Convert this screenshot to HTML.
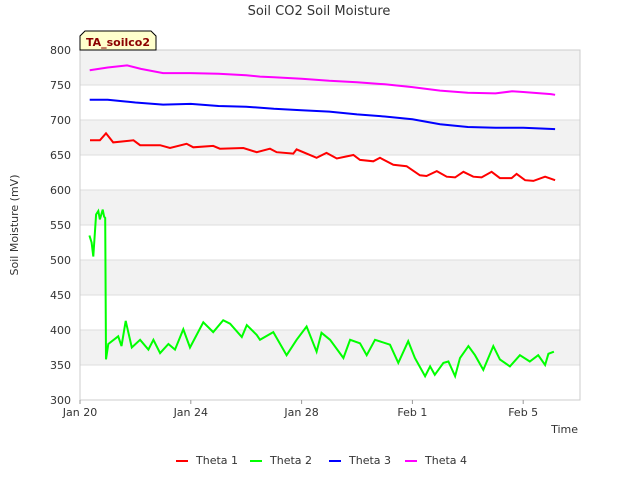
<!DOCTYPE html>
<html><head><meta charset="utf-8"><style>
body{margin:0;background:#fff;}
svg{font-family:"DejaVu Sans","Liberation Sans",sans-serif;}
</style></head><body>
<svg id="chart" width="640" height="480" viewBox="0 0 640 480">
<text x="319" y="15" text-anchor="middle" font-size="13" fill="#333">Soil CO2 Soil Moisture</text>
<g id="bands"></g>
<g id="grid"></g>
<rect x="80" y="50" width="500" height="350" fill="none" stroke="#ccc"/>
<g id="yticks"></g>
<g id="xticks"></g>
<text transform="translate(18,225) rotate(-90)" text-anchor="middle" font-size="11" fill="#333">Soil Moisture (mV)</text>
<text x="578" y="433" text-anchor="end" font-size="11" fill="#333">Time</text>
<g id="series"></g>
<g>
<polygon points="85,31 151,31 156,36 156,50 80,50 80,36" fill="#ffffcc" stroke="#000" stroke-width="1"/>
<text x="118" y="46" text-anchor="middle" font-size="11" font-weight="bold" fill="#8b0000">TA_soilco2</text>
</g>
<g id="legend"></g>
</svg>
<script>
const yTicks=[300,350,400,450,500,550,600,650,700,750,800];
const xTickDays=[0,4,8,12,16];
const xTickLabels=["Jan 20","Jan 24","Jan 28","Feb 1","Feb 5"];
const seriesNames=["Theta 1","Theta 2","Theta 3","Theta 4"];
const seriesColors=["#ff0000","#00ff00","#0000ff","#ff00ff"];
const t1Days=[0.36,0.72,0.94,1.2,1.93,2.17,2.89,3.25,3.85,4.09,4.81,5.05,5.9,6.38,6.86,7.1,7.7,7.82,8.54,8.9,9.27,9.87,10.11,10.59,10.83,11.31,11.79,12.27,12.51,12.88,13.24,13.54,13.84,14.2,14.5,14.86,15.16,15.58,15.76,16.07,16.37,16.79,17.15];
const t1Vals=[671,671,681,668,671,664,664,660,666,661,663,659,660,654,659,654,652,658,646,653,645,650,643,641,646,636,634,621,620,627,619,618,626,619,618,626,617,617,623,614,613,619,614];
const t2Days=[0.34,0.42,0.48,0.58,0.66,0.72,0.82,0.87,0.91,0.94,1.02,1.38,1.5,1.65,1.87,2.17,2.47,2.65,2.89,3.19,3.43,3.73,3.97,4.45,4.81,5.17,5.42,5.84,6.02,6.38,6.5,6.98,7.46,7.82,8.18,8.54,8.72,9.03,9.51,9.75,10.11,10.35,10.65,11.19,11.49,11.85,12.09,12.46,12.64,12.81,13.12,13.3,13.54,13.72,14.02,14.26,14.56,14.92,15.16,15.52,15.88,16.24,16.54,16.79,16.91,17.11];
const t2Vals=[535,525,505,565,570,558,572,562,560,358,380,391,377,413,375,386,372,386,367,380,372,401,375,411,397,414,409,390,407,393,386,397,364,386,405,369,396,386,360,386,381,364,386,379,353,384,360,334,348,336,353,355,334,360,377,364,343,377,358,348,364,355,364,350,366,369];
const t3Days=[0.35,1,1.5,2,3,4,5,6,7,8,9,10,11,12,13,14,15,16,17.15];
const t3Vals=[729,729,727,725,722,723,720,719,716,714,712,708,705,701,694,690,689,689,687];
const t4Days=[0.35,1,1.7,2.2,3,4,5,6,6.5,7,8,9,10,11,12,13,14,15,15.6,16,17,17.15];
const t4Vals=[771,775,778,773,767,767,766,764,762,761,759,756,754,751,747,742,739,738,741,740,737,736];
const NS="http://www.w3.org/2000/svg";
function X(d){return 80+d*27.7;}
function Y(v){return 50+(800-v)*0.7;}
function mk(tag,attrs,parent){const e=document.createElementNS(NS,tag);for(const k in attrs)e.setAttribute(k,attrs[k]);parent.appendChild(e);return e;}
const bands=document.getElementById('bands'),grid=document.getElementById('grid'),yt=document.getElementById('yticks'),xt=document.getElementById('xticks');
for(let i=0;i<yTicks.length-1;i++){
  if((yTicks.length-2-i)%2===0){const r=mk('rect',{x:80,y:Y(yTicks[i+1]),width:500,height:Y(yTicks[i])-Y(yTicks[i+1]),fill:'#f2f2f2'},bands);
  
  }
}
yTicks.forEach(v=>{
  const l=mk('line',{x1:80,x2:580,y1:Y(v),y2:Y(v),stroke:'#ddd','stroke-width':1},grid);
  
  
  const t=mk('text',{x:71,y:Y(v)+4,'text-anchor':'end','font-size':11,fill:'#333'},yt);t.textContent=v;
  
  
});
xTickDays.forEach((d,i)=>{
  mk('line',{x1:X(d),x2:X(d),y1:400,y2:404,stroke:'#999'},xt);
  const t=mk('text',{x:X(d),y:416,'text-anchor':'middle','font-size':11,fill:'#333'},xt);t.textContent=xTickLabels[i];
  
  
});
const ser=document.getElementById('series');
[[t1Days,t1Vals],[t2Days,t2Vals],[t3Days,t3Vals],[t4Days,t4Vals]].forEach((s,i)=>{
  const pts=s[0].map((d,j)=>X(d).toFixed(1)+','+Y(s[1][j]).toFixed(1)).join(' ');
  const p=mk('polyline',{points:pts,fill:'none',stroke:seriesColors[i],'stroke-width':2},ser);
  
  
});
const lg=document.getElementById('legend');
const lx=[176,250,329,405];
seriesNames.forEach((n,i)=>{
  const g=mk('g',{},lg);
  
  
  mk('line',{x1:lx[i],x2:lx[i]+12,y1:461,y2:461,stroke:seriesColors[i],'stroke-width':2},g);
  const t=mk('text',{x:lx[i]+20,y:464,'font-size':11,fill:'#333'},g);t.textContent=n;
});
</script>
</body></html>
